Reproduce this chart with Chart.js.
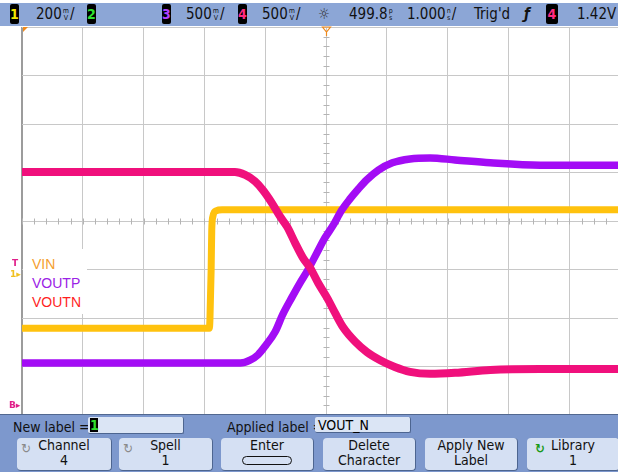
<!DOCTYPE html>
<html>
<head>
<meta charset="utf-8">
<script src="https://cdn.jsdelivr.net/npm/chart.js@4.4.0/dist/chart.umd.min.js"></script>
<style>
html, body { margin: 0; padding: 0; background: #fff; }
#wrap { position: relative; width: 618px; height: 472px; overflow: hidden;
  font-family: 'Liberation Sans Narrow', 'DejaVu Sans Condensed', 'Liberation Sans', sans-serif; }
#scope { position: absolute; left: 0; top: 0; }
#top { position: absolute; left: 0; top: 3px; width: 618px; height: 23px; background: #8ca6d6; }
.tx { position: absolute; top: 2px; font-size: 15px; line-height: 19px; color: #111; white-space: nowrap; }
.ch { position: absolute; top: 1px; width: 9px; height: 20px; background: #000; border-radius: 2px;
  font-size: 14px; line-height: 20px; text-align: center; font-weight: bold; }
.u { display: inline-block; font-size: 7px; line-height: 7px; vertical-align: middle; text-align: center; margin: 0 1px; }
#legend { position: absolute; left: 23px; top: 249px; width: 64px; height: 65px; background: #fff; }
#legend div { position: absolute; left: 9px; font-size: 14px; line-height: 18px; font-family: 'Liberation Sans', Arial, sans-serif; }
#bot { position: absolute; left: 0; top: 414px; width: 618px; height: 58px; background: #7d98cd; border-top: 1px solid #52688f; }
.lab { position: absolute; top: 3px; font-size: 14px; line-height: 18px; color: #111; white-space: nowrap; }
.field { position: absolute; top: 2px; height: 16px; background: #dbe5f5; border-radius: 2px;
  border-right: 1px solid #4d6590; border-bottom: 1px solid #4d6590; font-size: 14px; line-height: 16px; }
.btn { position: absolute; top: 23px; height: 32px; background: #d5e0f3; border-radius: 4px;
  border-right: 1px solid #4d6590; border-bottom: 1px solid #4d6590; text-align: center;
  font-size: 14px; line-height: 15px; color: #111; }
.btn .ic { position: absolute; left: 4px; top: 3px; font-size: 13px; color: #8a8a8a; }
</style>
</head>
<body>
<div id="wrap">
  <canvas id="scope" width="618" height="472"></canvas>

  <div id="top">
    <div class="ch" style="left:10px;color:#f2e600;">1</div>
    <div class="tx" style="left:36px;">200<span class="u">m<br>V</span>/</div>
    <div class="ch" style="left:87px;color:#2fe02f;">2</div>
    <div class="ch" style="left:162px;color:#b040ff;">3</div>
    <div class="tx" style="left:186px;">500<span class="u">m<br>V</span>/</div>
    <div class="ch" style="left:238px;color:#ff2a80;">4</div>
    <div class="tx" style="left:262px;">500<span class="u">m<br>V</span>/</div>
    <div class="tx" style="left:318px;color:#333;">&#9788;</div>
    <div class="tx" style="left:349px;">499.8<span class="u">p<br>s</span></div>
    <div class="tx" style="left:407px;">1.000<span class="u">n<br>s</span>/</div>
    <div class="tx" style="left:474px;">Trig'd</div>
    <div class="tx" style="left:524px;font-style:italic;font-weight:bold;">&#402;</div>
    <div class="ch" style="left:546px;width:12px;color:#ff2a80;">4</div>
    <div class="tx" style="left:577px;">1.42V</div>
  </div>

  <div id="legend">
    <div style="top:6px;color:#f5a030;">VIN</div>
    <div style="top:25px;color:#9b22e6;">VOUTP</div>
    <div style="top:44px;color:#ff1f1f;">VOUTN</div>
  </div>

  <div id="bot">
    <div class="lab" style="left:13px;">New label =</div>
    <div class="field" style="left:88px;width:95px;">
      <span style="display:inline-block;margin-left:2px;width:8px;height:14px;background:#000;color:#2fe02f;font-weight:bold;text-align:center;line-height:14px;">1</span>
    </div>
    <div class="lab" style="left:227px;">Applied label =</div>
    <div class="field" style="left:315px;width:96px;padding-left:3px;box-sizing:border-box;">VOUT_N</div>

    <div class="btn" style="left:17px;width:94px;"><span class="ic">&#8635;</span>Channel<br>4</div>
    <div class="btn" style="left:119px;width:93px;"><span class="ic">&#8635;</span>Spell<br>1</div>
    <div class="btn" style="left:221px;width:92px;">Enter<br>
      <span style="display:inline-block;width:48px;height:7px;border:1px solid #111;border-radius:5px;margin-top:3px;"></span></div>
    <div class="btn" style="left:323px;width:92px;">Delete<br>Character</div>
    <div class="btn" style="left:425px;width:92px;">Apply New<br>Label</div>
    <div class="btn" style="left:527px;width:92px;"><span class="ic" style="color:#1a9a1a;font-weight:bold;left:8px;">&#8635;</span>Library<br>1</div>
  </div>
</div>

<script>
// time in ns (1 ns/div, trigger at 0), level in divisions
const vinTime   = [-5.0, -1.92, -1.91, -1.89, -1.88, -1.86, -1.81, -1.71, 4.8];
const vinLevel  = [-2.21, -2.21, -2.04, -1.01, -0.19, 0.10, 0.21, 0.23, 0.23];

const voutpTime  = [-5.0, -1.41, -1.25, -1.12, -0.99, -0.84, -0.71, -0.56, -0.43, -0.30, -0.16, -0.02,
                    0.12, 0.25, 0.39, 0.53, 0.67, 0.86, 1.09, 1.38, 1.71, 2.12, 2.70, 3.52, 4.8];
const voutpLevel = [-2.93, -2.93, -2.87, -2.76, -2.56, -2.29, -1.92, -1.57, -1.28, -1.01, -0.68, -0.35,
                    -0.08, 0.21, 0.45, 0.66, 0.85, 1.05, 1.20, 1.28, 1.30, 1.26, 1.20, 1.15, 1.15];

const voutnTime  = [-5.0, -1.50, -1.33, -1.17, -1.04, -0.89, -0.76, -0.64, -0.51, -0.38, -0.26, -0.13,
                    0.02, 0.15, 0.28, 0.48, 0.67, 0.89, 1.13, 1.38, 1.71, 2.12, 2.70, 3.52, 4.8];
const voutnLevel = [1.01, 1.01, 0.95, 0.82, 0.64, 0.37, 0.10, -0.12, -0.45, -0.76, -0.97, -1.28,
                    -1.59, -1.90, -2.19, -2.49, -2.70, -2.87, -3.01, -3.11, -3.15, -3.13, -3.07, -3.05, -3.05];

const xDivs = [-5, -4, -3, -2, -1, 0, 1, 2, 3, 4];
const yDivs = [-4, -3, -2, -1, 0, 1, 2, 3, 4];

function toPoints(xs, ys) {
    return xs.map((x, i) => ({ x: x, y: ys[i] }));
}

const scopeMarks = {
    id: 'scopeMarks',
    beforeDatasetsDraw(chart) {
        const ctx = chart.ctx;
        const xs = chart.scales.x, ys = chart.scales.y;
        const cx = Math.round(xs.getPixelForValue(0)) + 0.5;
        const cy = Math.round(ys.getPixelForValue(0)) + 0.5;
        ctx.save();
        ctx.strokeStyle = '#b4b4b4';
        ctx.lineWidth = 1;
        ctx.beginPath();
        for (let v = -5; v <= 4.8; v += 0.2) {
            const px = Math.round(xs.getPixelForValue(v)) + 0.5;
            ctx.moveTo(px, cy - 3); ctx.lineTo(px, cy + 3);
        }
        for (let v = -4; v <= 4; v += 0.2) {
            const py = Math.round(ys.getPixelForValue(v)) + 0.5;
            ctx.moveTo(cx - 3, py); ctx.lineTo(cx + 3, py);
        }
        ctx.stroke();

        // trigger position marker and corner marker
        ctx.strokeStyle = '#f08a1c';
        ctx.lineWidth = 1.2;
        ctx.beginPath();
        ctx.moveTo(cx - 4, 27); ctx.lineTo(cx + 4, 27); ctx.lineTo(cx, 32); ctx.closePath();
        ctx.moveTo(cx, 32); ctx.lineTo(cx, 36);
        ctx.stroke();
        ctx.fillStyle = '#f08a1c';
        ctx.beginPath();
        ctx.moveTo(23, 27); ctx.lineTo(28, 27); ctx.lineTo(23, 32); ctx.closePath();
        ctx.fill();

        // ground / trigger level markers on the left edge
        ctx.font = 'bold 9px "DejaVu Sans", sans-serif';
        ctx.fillStyle = '#e0208a';
        ctx.fillText('T', 12, 266);
        ctx.fillStyle = '#f0c020';
        ctx.fillText('1\u25B8', 10, 277);
        ctx.fillStyle = '#e0208a';
        ctx.fillText('B\u25B8', 9, 408);
        ctx.restore();
    }
};

new Chart(document.getElementById('scope').getContext('2d'), {
    type: 'line',
    data: {
        datasets: [
            { label: 'VOUTN', data: toPoints(voutnTime, voutnLevel), borderColor: '#f0107c', borderWidth: 8 },
            { label: 'VOUTP', data: toPoints(voutpTime, voutpLevel), borderColor: '#a30cf5', borderWidth: 7.5 },
            { label: 'VIN', data: toPoints(vinTime, vinLevel), borderColor: '#ffc20e', borderWidth: 7 }
        ]
    },
    options: {
        responsive: false,
        animation: false,
        devicePixelRatio: 1,
        layout: { padding: { left: 22, top: 27, right: 0, bottom: 57 } },
        elements: {
            line: { tension: 0, cubicInterpolationMode: 'monotone', borderCapStyle: 'butt' },
            point: { radius: 0 }
        },
        plugins: { legend: { display: false }, tooltip: { enabled: false } },
        scales: {
            x: {
                type: 'linear', min: -5, max: 4.8,
                afterBuildTicks: s => { s.ticks = xDivs.map(v => ({ value: v })); },
                ticks: { display: false },
                border: { display: false },
                grid: {
                    drawTicks: false,
                    color: c => c.tick && c.tick.value === -5 ? '#9c9c9c' : '#c8c8c8',
                    lineWidth: c => c.tick && c.tick.value === -5 ? 2 : 1
                }
            },
            y: {
                type: 'linear', min: -4, max: 4,
                afterBuildTicks: s => { s.ticks = yDivs.map(v => ({ value: v })); },
                ticks: { display: false },
                border: { display: false },
                grid: { drawTicks: false, color: '#c8c8c8', lineWidth: 1 }
            }
        }
    },
    plugins: [scopeMarks]
});
</script>
</body>
</html>
